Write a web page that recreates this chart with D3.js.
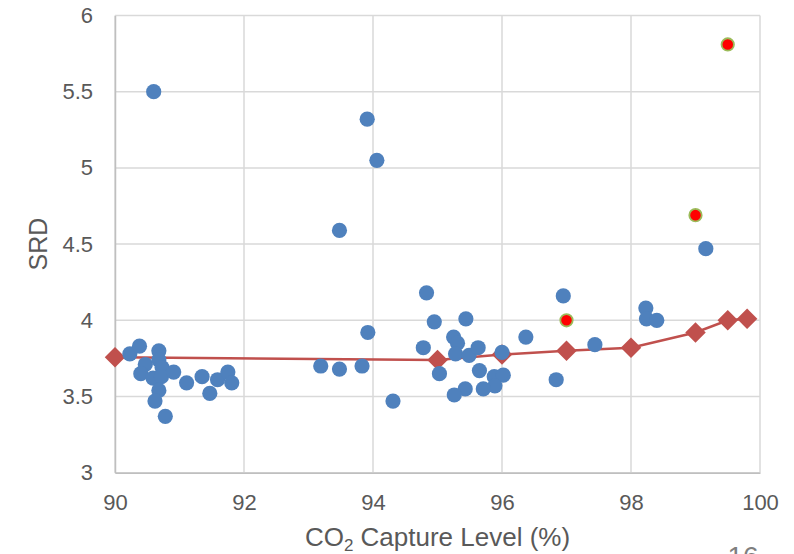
<!DOCTYPE html>
<html>
<head>
<meta charset="utf-8">
<script src="https://cdn.jsdelivr.net/npm/d3@7"></script>
<style>
  body { margin: 0; background: #fff; }
  svg { display: block; font-family: "Liberation Sans", Arial, sans-serif; }
</style>
</head>
<body>
<div id="chart"></div>
<script>
// blue scatter: individual runs (capture level %, SRD)
const runX = [90.60, 93.91, 94.06, 93.48,
  90.23, 90.38, 90.68, 90.47, 90.40, 90.68, 90.73, 90.59, 90.72, 90.91, 90.68, 90.62, 90.78,
  91.11, 91.35, 91.47, 91.59, 91.75, 91.81,
  93.19, 93.48, 93.83, 93.92, 94.31,
  94.83, 94.95, 95.44, 95.25, 95.31, 94.78, 95.28, 95.49, 95.63, 96.00, 96.37,
  95.03, 95.65, 95.88, 96.02, 95.89, 95.71, 95.43, 95.26,
  96.95, 97.44, 96.84, 98.23, 98.24, 98.40, 99.16];
const runY = [5.50, 5.32, 5.05, 4.59,
  3.78, 3.83, 3.80, 3.71, 3.65, 3.74, 3.69, 3.62, 3.63, 3.66, 3.54, 3.47, 3.37,
  3.59, 3.63, 3.52, 3.61, 3.66, 3.59,
  3.70, 3.68, 3.70, 3.92, 3.47,
  4.18, 3.99, 4.01, 3.89, 3.85, 3.82, 3.78, 3.77, 3.82, 3.79, 3.89,
  3.65, 3.67, 3.63, 3.64, 3.57, 3.55, 3.55, 3.51,
  4.16, 3.84, 3.61, 4.08, 4.01, 4.00, 4.47];

// red highlighted points
const hiX = [97.0, 99.0, 99.5];
const hiY = [4.00, 4.69, 5.81];

// red diamond line
const lineX = [90, 95, 96, 97, 98, 99, 99.5, 99.8];
const lineY = [3.757, 3.74, 3.775, 3.80, 3.82, 3.92, 4.00, 4.01];

const xTicks = [90, 92, 94, 96, 98, 100];
const yTicks = [3, 3.5, 4, 4.5, 5, 5.5, 6];

const W = 794, H = 554;
const margin = {top: 15.5, right: 34, bottom: 81.3, left: 115};
const width = W - margin.left - margin.right;
const height = H - margin.top - margin.bottom;

const svg = d3.select("#chart").append("svg")
  .attr("width", W)
  .attr("height", H);

const g = svg.append("g")
  .attr("transform", `translate(${margin.left},${margin.top})`);

const x = d3.scaleLinear().domain([90, 100]).range([0, width]);
const y = d3.scaleLinear().domain([3, 6]).range([height, 0]);

const textCol = "#595959";

// gridlines
g.append("g").selectAll("line").data(xTicks).join("line")
  .attr("x1", d => x(d)).attr("x2", d => x(d))
  .attr("y1", 0).attr("y2", height)
  .attr("stroke", "#d9d9d9").attr("stroke-width", 1.5);
g.append("g").selectAll("line").data(yTicks).join("line")
  .attr("x1", 0).attr("x2", width)
  .attr("y1", d => y(d)).attr("y2", d => y(d))
  .attr("stroke", "#d9d9d9").attr("stroke-width", 1.5);

// axes
const xAxis = g.append("g")
  .attr("transform", `translate(0,${height})`)
  .call(d3.axisBottom(x).tickValues(xTicks).tickSize(0).tickPadding(22).tickFormat(d3.format("d")));
const yAxis = g.append("g")
  .call(d3.axisLeft(y).tickValues(yTicks).tickSize(0).tickPadding(22).tickFormat(d => d));

[xAxis, yAxis].forEach(a => {
  a.select(".domain").attr("stroke", "#bfbfbf").attr("stroke-width", 1.5);
  a.selectAll("text").attr("fill", textCol).style("font-size", "22px")
    .style("font-family", "'Liberation Sans', Arial, sans-serif");
});

// red line + diamonds
const lineData = lineX.map((v, i) => ({x: v, y: lineY[i]}));
g.append("path")
  .datum(lineData)
  .attr("fill", "none")
  .attr("stroke", "#c0504d")
  .attr("stroke-width", 2.5)
  .attr("d", d3.line().x(d => x(d.x)).y(d => y(d.y)));

g.selectAll(".diamond").data(lineData).join("path")
  .attr("class", "diamond")
  .attr("d", d3.symbol(d3.symbolSquare, 210))
  .attr("transform", d => `translate(${x(d.x)},${y(d.y)}) rotate(45)`)
  .attr("fill", "#c0504d");

// highlighted points
g.selectAll(".hi").data(hiX.map((v, i) => ({x: v, y: hiY[i]}))).join("circle")
  .attr("class", "hi")
  .attr("cx", d => x(d.x)).attr("cy", d => y(d.y))
  .attr("r", 6.2)
  .attr("fill", "#ff0000")
  .attr("stroke", "#9bbb59")
  .attr("stroke-width", 1.8);

// blue scatter
g.selectAll(".run").data(runX.map((v, i) => ({x: v, y: runY[i]}))).join("circle")
  .attr("class", "run")
  .attr("cx", d => x(d.x)).attr("cy", d => y(d.y))
  .attr("r", 7.6)
  .attr("fill", "#4f81bd");

// axis titles
const xt = svg.append("text")
  .attr("x", margin.left + width / 2)
  .attr("y", 546)
  .attr("text-anchor", "middle")
  .attr("fill", textCol)
  .style("font-size", "26px");
xt.append("tspan").text("CO");
xt.append("tspan").attr("dy", 5).style("font-size", "17px").text("2");
xt.append("tspan").attr("dy", -5).text(" Capture Level (%)");

svg.append("text")
  .attr("transform", `translate(47,${margin.top + height / 2}) rotate(-90)`)
  .attr("text-anchor", "middle")
  .attr("fill", textCol)
  .style("font-size", "25px")
  .text("SRD");

// page number, cut off at bottom
svg.append("text")
  .attr("x", 743)
  .attr("y", 566)
  .attr("text-anchor", "middle")
  .attr("fill", "#7f7f7f")
  .style("font-size", "28px")
  .text("16");
</script>
</body>
</html>
